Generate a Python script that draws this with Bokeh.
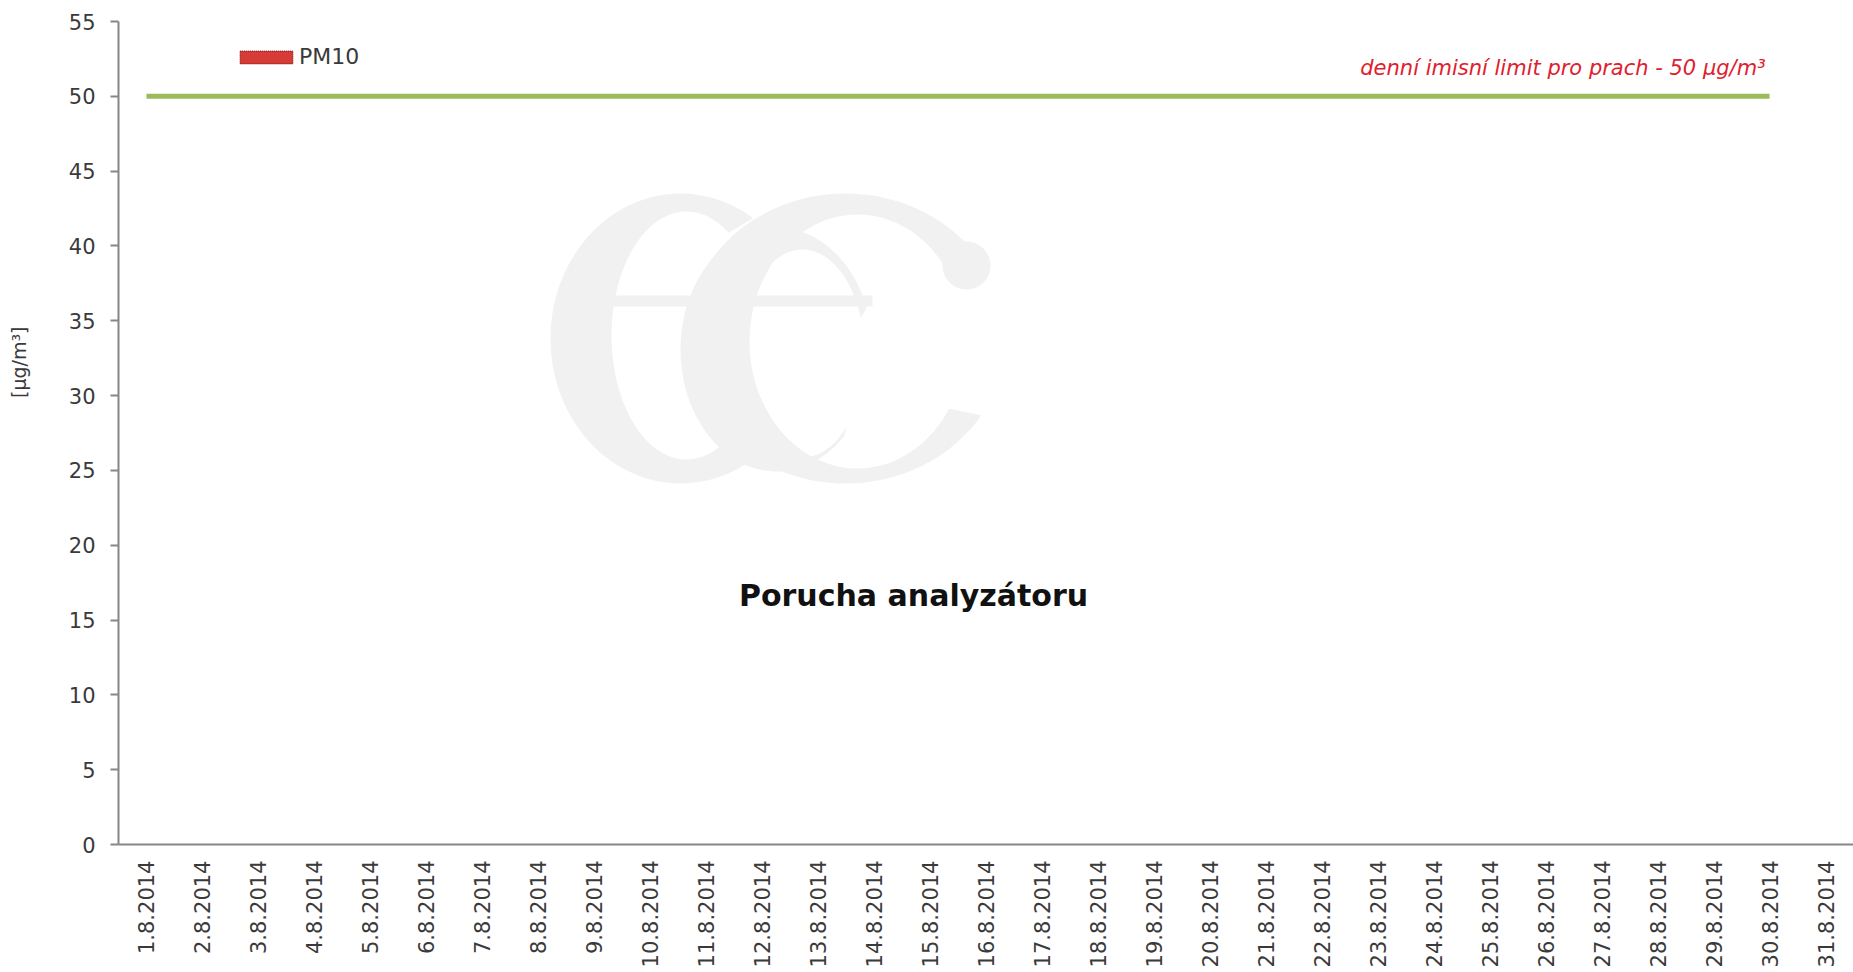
import math
import numpy as np
from bokeh.plotting import figure
from bokeh.models import (FactorRange, Range1d, FixedTicker, Label, Legend, LegendItem,
                          ColumnDataSource, Title, PolyAnnotation)
from bokeh.embed import file_html
from bokeh.resources import INLINE

# ---------------- data ----------------
days = [f"{d}.8.2014" for d in range(1, 32)]
# PM10 daily values: analyser failure, no measured values
pm10 = [float("nan")] * 31
# daily limit line (drawn for 1.8. - 30.8.)
limit = [50] * 30 + [float("nan")]
y_ticks = [0, 5, 10, 15, 20, 25, 30, 35, 40, 45, 50, 55]
series_name = "PM10"
limit_text = "denní imisní limit pro prach - 50 µg/m³"
failure_text = "Porucha analyzátoru"
y_title = "[µg/m³]"
limit_value = 50

AXIS_COLOR = "#868686"
TEXT_COLOR = "#3a3a3a"
FONT = "DejaVu Sans"

p = figure(x_range=FactorRange(factors=days), y_range=Range1d(0, 55),
           width=1853, height=970, output_backend="svg", toolbar_location=None,
           min_border_left=118, min_border_top=21, min_border_right=0, min_border_bottom=0)
p.outline_line_color = None
p.xgrid.grid_line_color = None
p.ygrid.grid_line_color = None
p.background_fill_color = "white"

# ---------------- faint "ec" watermark logo (decoration, screen units) ----------------
FRAME_LEFT, FRAME_BOTTOM = 118, 843
LOGO_COLOR = "#f1f1f1"


def _rel(xs, ys):
    return [float(x - FRAME_LEFT) for x in xs], [float(FRAME_BOTTOM - y) for y in ys]


def ring(c, ro, ci, ri, a0, a1, n=90):
    t = np.radians(np.linspace(a0, a1, n))
    ox = c[0] + ro[0] * np.cos(t)
    oy = c[1] - ro[1] * np.sin(t)
    ix = ci[0] + ri[0] * np.cos(t[::-1])
    iy = ci[1] - ri[1] * np.sin(t[::-1])
    return _rel(np.concatenate([ox, ix]), np.concatenate([oy, iy]))


def rect(x0, x1, y0, y1):
    return _rel([x0, x1, x1, x0], [y0, y0, y1, y1])


def blob(c, r, n=40):
    t = np.linspace(0, 2 * np.pi, n, endpoint=False)
    return _rel(c[0] + r * np.cos(t), c[1] - r * np.sin(t))


logo_parts = [
    ring((680, 337), (130, 145), (686, 334), (75, 124), 56, 300),   # left e bowl
    rect(607, 700, 294, 305),                                     # left e bar
    ring((776, 348), (96, 122), (802, 352), (62, 104), 20, 315),    # middle e bowl
    rect(740, 872, 294, 305),                                     # middle e bar
    ring((845, 337), (160, 145), (857, 340), (108, 127), 30, 328),  # right c
    blob((966, 264), 24),                                         # c ball terminal
]
for xs, ys in logo_parts:
    p.add_layout(PolyAnnotation(xs=xs, ys=ys, xs_units="screen", ys_units="screen",
                                fill_color=LOGO_COLOR, fill_alpha=1.0,
                                line_color=None, level="underlay"))

# ---------------- series ----------------
src = ColumnDataSource(dict(day=days, pm10=pm10, limit=limit))
bars = p.vbar(x="day", top="pm10", width=0.8, source=src,
              fill_color="#d63b37", line_color="#7a1515", line_dash="1 1", line_width=1)
p.line(x="day", y="limit", source=src, line_color="#9bbb59", line_width=5)

# ---------------- axes ----------------
p.yaxis.ticker = FixedTicker(ticks=y_ticks)
p.yaxis.minor_tick_line_color = None
p.yaxis.major_tick_in = 0
p.yaxis.major_tick_out = 8
p.yaxis.major_label_standoff = 15
p.yaxis.axis_label = " "
p.yaxis.axis_label_text_font_size = "1px"
p.yaxis.axis_label_standoff = 27
for ax in (p.xaxis, p.yaxis):
    ax.axis_line_color = AXIS_COLOR
    ax.axis_line_width = 2
    ax.major_tick_line_color = AXIS_COLOR
    ax.major_tick_line_width = 2
    ax.major_label_text_font = FONT
    ax.major_label_text_font_size = "21px"
    ax.major_label_text_color = TEXT_COLOR
p.xaxis.major_tick_line_color = None
p.xaxis.major_tick_out = 0
p.xaxis.major_tick_in = 0
p.xaxis.major_label_orientation = math.pi / 2
p.xaxis.major_label_standoff = 16

# y axis title
p.add_layout(Title(text=y_title, align="right", offset=305, text_font=FONT,
                   text_font_size="19px", text_font_style="normal",
                   text_color=TEXT_COLOR, standoff=10), "left")

# ---------------- legend ----------------
legend = Legend(items=[LegendItem(label=series_name, renderers=[bars])],
                location=(115, 775), glyph_width=66, glyph_height=16,
                label_text_font=FONT, label_text_font_size="22px",
                label_text_color=TEXT_COLOR, label_standoff=0, label_height=16,
                padding=0, margin=0, spacing=0, border_line_color=None,
                background_fill_alpha=0)
p.add_layout(legend)

# ---------------- annotations ----------------
p.add_layout(Label(x=29.5, y=limit_value, x_offset=-4, y_offset=28, text=limit_text,
                   text_font=FONT, text_font_style="italic", text_font_size="21px",
                   text_color="#e0202e", text_align="right", text_baseline="alphabetic"))
p.add_layout(Label(x=795, y=249, x_units="screen", y_units="screen", text=failure_text,
                   text_font=FONT, text_font_style="bold", text_font_size="30px",
                   text_color="#111111", text_align="center", text_baseline="alphabetic"))

open("out.html", "w").write(file_html(p, INLINE))
